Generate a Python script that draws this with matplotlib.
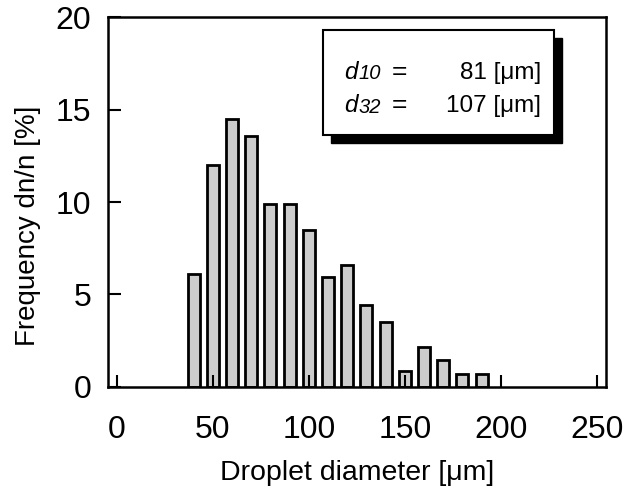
import matplotlib
matplotlib.use("Agg")
import matplotlib.pyplot as plt
from matplotlib.patches import Rectangle

plt.rcParams['font.family'] = ['Liberation Sans', 'DejaVu Sans']

# droplet size distribution (bin centres in um, frequency in %)
diameters = [40, 50, 60, 70, 80, 90, 100, 110, 120, 130, 140, 150, 160, 170, 180, 190]
frequency = [6.1, 12.0, 14.5, 13.6, 9.9, 9.9, 8.5, 5.95, 6.6, 4.4, 3.5, 0.85, 2.15, 1.45, 0.7, 0.7]
x_ticks = [0, 50, 100, 150, 200, 250]
y_ticks = [0, 5, 10, 15, 20]
mean_names = ['10', '32']
mean_values = [81, 107]

W, H = 635, 488
fig = plt.figure(figsize=(W / 100, H / 100), dpi=100)
# axes box in pixels: left 108, right 606, top 17.3, bottom 386.7
ax = fig.add_axes([108 / W, 1 - 386.7 / H, 498 / W, 369.4 / H])

ax.bar(diameters, frequency, width=6.2, color='#cccccc', edgecolor='black', linewidth=2)

ax.set_xlim(-4.6, 254.8)
ax.set_ylim(0, 20)
ax.set_xticks(x_ticks)
ax.set_yticks(y_ticks)
ax.tick_params(direction='in', length=9, width=1.5, labelsize=23, top=False, right=False)
ax.tick_params(axis='y', pad=12)
ax.tick_params(axis='x', pad=20.5)
for s in ax.spines.values():
    s.set_linewidth(1.8)

fig.text(28 / W, 1 - 226 / H, 'Frequency dn/n [%]', rotation=90,
         ha='center', va='center', fontsize=20)
fig.text(357 / W, 1 - 473 / H, 'Droplet diameter [μm]', ha='center', va='center', fontsize=20.5)

# info box with drop shadow (pixels: x 323-554, y 30-135)
bx, by, bw, bh = 215 / 498, 251.7 / 369.4, 231 / 498, 105 / 369.4
shadow = Rectangle((bx + 8 / 498, by - 8 / 369.4), bw, bh, transform=ax.transAxes,
                   facecolor='black', edgecolor='black', zorder=4, clip_on=False)
box = Rectangle((bx, by), bw, bh, transform=ax.transAxes, facecolor='white',
                edgecolor='black', linewidth=1.5, zorder=5, clip_on=False)
ax.add_patch(shadow)
ax.add_patch(box)

row_y = [0.8335, 0.7436]
for name, val, yy in zip(mean_names, mean_values, row_y):
    ax.text(0.474, yy, 'd', transform=ax.transAxes, ha='left', va='baseline',
            fontsize=17.5, style='italic', zorder=6)
    ax.annotate(name, xy=(0.474, yy), xycoords='axes fraction', xytext=(10.3, -0.5),
                textcoords='offset points', ha='left', va='baseline',
                fontsize=14.5, style='italic', zorder=6)
    ax.annotate('=', xy=(0.474, yy), xycoords='axes fraction', xytext=(34, 0),
                textcoords='offset points', ha='left', va='baseline',
                fontsize=19, zorder=6)
    ax.text(0.869, yy, f'{val} [μm]', transform=ax.transAxes, ha='right', va='baseline',
            fontsize=17.5, zorder=6)

fig.savefig('out.png', dpi=100)
